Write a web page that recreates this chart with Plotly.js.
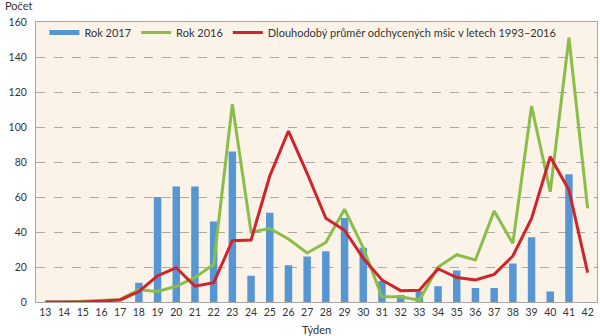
<!DOCTYPE html>
<html><head><meta charset="utf-8">
<script src="https://cdn.plot.ly/plotly-3.0.1.min.js"></script>
<style>html,body{margin:0;padding:0;background:#fff;}#chart{width:600px;height:336px;}</style>
</head><body><div id="chart"></div>
<script>
const weeks = ["13","14","15","16","17","18","19","20","21","22","23","24","25","26","27","28","29","30","31","32","33","34","35","36","37","38","39","40","41","42"];
const rok2017 = [0,0,0,0,0,11,60,66,66,46,86,15,51,21,26,29,48,31,12,4,6,9,18,8,8,22,37,6,73,null];
const rok2016 = [0,0,0.5,1,1.5,7,6,9,14,21.5,113,40,42,36,28,34,53,31,3,3,1,20,27,24,52,33.5,112,63,151,53.5];
const prumer = [0,0,0,0.5,1.2,6,15,19.6,9,11,35,35.4,72,97.7,73.5,47.8,41,25,12.6,6.5,6.7,19,14,12.6,15.8,26.3,47.8,83,64,16.8];

const fam = "Lato, Open Sans, sans-serif";
const txt = "#333";
const data = [
  {type: "bar", x: weeks, y: rok2017, name: "Rok 2017", marker: {color: "#5596D3"}, showlegend: false},
  {type: "scatter", mode: "lines", x: [null], y: [null], name: "Rok 2017", line: {color: "#5596D3", width: 5}, hoverinfo: "skip"},
  {type: "scatter", mode: "lines", x: weeks, y: rok2016, name: "Rok 2016", line: {color: "#8BBE48", width: 3}},
  {type: "scatter", mode: "lines", x: weeks, y: prumer, name: "Dlouhodobý průměr odchycených mšic v letech 1993–2016", line: {color: "#D1232C", width: 3}}
];
const layout = {
  width: 600, height: 336,
  margin: {l: 36, r: 3, t: 22, b: 34},
  paper_bgcolor: "#ffffff",
  plot_bgcolor: "#FBF3E8",
  font: {family: fam, size: 10, color: txt},
  bargap: 0.6,
  showlegend: true,
  legend: {orientation: "h", x: 0.015, y: 1.014, xanchor: "left", yanchor: "top", bgcolor: "rgba(0,0,0,0)", font: {family: fam, size: 11, color: txt}, itemwidth: 30, tracegroupgap: 0},
  xaxis: {type: "category", range: [-0.5, 29.5], showgrid: false, ticks: "", showline: true, linecolor: "#A8A8A8", linewidth: 1, mirror: true,
          tickfont: {size: 10.5, color: txt}, title: {text: "Týden", font: {size: 11, color: txt}, standoff: 9}},
  yaxis: {range: [0, 160], dtick: 20, showgrid: true, gridcolor: "#B0A89E", griddash: "dash", gridwidth: 1, zeroline: false,
          showline: true, linecolor: "#A8A8A8", mirror: true, ticks: "", tickfont: {size: 10.5, color: txt}, ticklabelstandoff: 6},
  annotations: [{text: "Počet", xref: "paper", yref: "paper", x: -0.058, y: 1.0, xanchor: "left", yanchor: "bottom", yshift: 8, showarrow: false, font: {size: 11, color: txt}}]
};
Plotly.newPlot("chart", data, layout, {displayModeBar: false, staticPlot: true});
</script></body></html>
